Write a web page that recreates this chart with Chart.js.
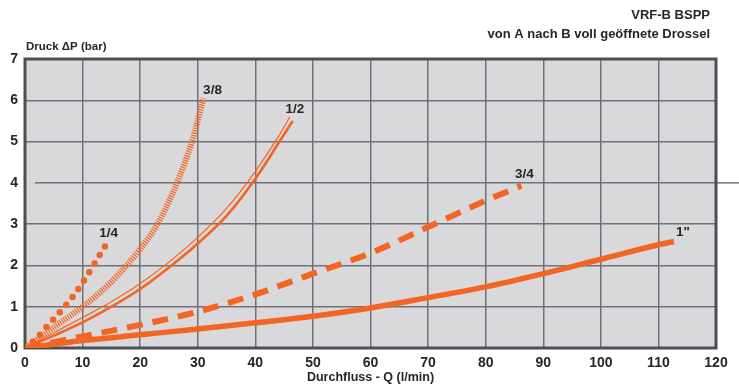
<!DOCTYPE html>
<html lang="de">
<head>
    <meta charset="UTF-8">
    <title>VRF-B BSPP</title>
    <script src="https://cdn.jsdelivr.net/npm/chart.js"></script>
    <style>
        html, body { margin: 0; padding: 0; background: #fff; }
        #wrap { width: 739px; height: 385px; }
    </style>
</head>
<body>
<div id="wrap"><canvas id="druckChart" width="739" height="385"></canvas></div>

<script>
    // Werte
    const xTicks = [0, 10, 20, 30, 40, 50, 60, 70, 80, 90, 100, 110, 120];
    const yTicks = [0, 1, 2, 3, 4, 5, 6, 7];

    const q14 = [0, 2, 4, 6, 8, 10, 12, 14];
    const dp14 = [0, 0.23, 0.55, 0.86, 1.19, 1.58, 2.03, 2.49];

    const q38 = [0, 5, 10, 15, 20, 23, 26.4, 29, 31];
    const dp38 = [0, 0.5, 1.0, 1.6, 2.4, 3.0, 4.0, 5.0, 6.05];

    const q12 = [0, 5, 10, 15, 20, 25, 30, 35, 40, 44.2, 46.5];
    const dp12 = [0, 0.3, 0.62, 1.0, 1.43, 1.95, 2.53, 3.2, 4.1, 5.0, 5.5];
    const q12b = [0, 5, 10, 15, 20, 25, 30, 35, 40, 44, 46];
    const dp12b = [0, 0.37, 0.74, 1.12, 1.56, 2.08, 2.68, 3.38, 4.28, 5.12, 5.6];

    const q34 = [0, 10, 20, 30, 40, 50, 60, 70, 80, 86.2];
    const dp34 = [0, 0.28, 0.56, 0.88, 1.3, 1.8, 2.3, 2.93, 3.57, 3.93];

    const q1 = [0, 10, 20, 30, 40, 50, 60, 70, 80, 90, 100, 110, 112.7];
    const dp1 = [0, 0.18, 0.32, 0.46, 0.61, 0.77, 0.97, 1.22, 1.48, 1.8, 2.15, 2.5, 2.58];

    const orange = '#f26524';
    const textColor = '#262628';
    const font = '"Liberation Sans", Arial, sans-serif';

    function pts(xs, ys) {
        return xs.map((x, i) => ({ x: x, y: ys[i] }));
    }

    // Hintergrund, Rahmen und Beschriftungen
    const deko = {
        id: 'deko',
        beforeDraw(chart) {
            const { ctx, chartArea: a } = chart;
            ctx.save();
            ctx.fillStyle = '#d9d9db';
            ctx.fillRect(a.left, a.top, a.right - a.left, a.bottom - a.top);
            ctx.restore();
        },
        beforeDatasetsDraw(chart) {
            const { ctx, chartArea: a, scales } = chart;
            ctx.save();
            // Linie bei 4 bar: links eine Lücke, rechts ragt sie heraus
            const y4 = scales.y.getPixelForValue(4);
            ctx.strokeStyle = '#d9d9db';
            ctx.lineWidth = 2;
            ctx.beginPath();
            ctx.moveTo(a.left, y4);
            ctx.lineTo(a.left + 10, y4);
            ctx.stroke();
            ctx.strokeStyle = '#6f7277';
            ctx.lineWidth = 1.5;
            ctx.beginPath();
            ctx.moveTo(a.right, y4);
            ctx.lineTo(chart.width, y4);
            ctx.stroke();
            ctx.strokeStyle = '#4b4e53';
            ctx.lineWidth = 3;
            ctx.strokeRect(a.left, a.top, a.right - a.left, a.bottom - a.top);
            ctx.restore();
        },
        afterDatasetsDraw(chart) {
            const { ctx, chartArea: a } = chart;
            ctx.save();
            ctx.fillStyle = textColor;
            ctx.textBaseline = 'middle';

            // Kurvennamen am Kurvenende
            ctx.font = 'bold 13.5px ' + font;
            ctx.textAlign = 'center';
            chart.data.datasets.forEach((ds, i) => {
                if (!ds.tag) return;
                const meta = chart.getDatasetMeta(i);
                const last = meta.data[meta.data.length - 1];
                ctx.fillText(ds.tag, last.x + ds.tagDx, last.y + ds.tagDy);
            });

            ctx.font = 'bold 11.5px ' + font;
            ctx.textAlign = 'left';
            ctx.fillText('Druck \u0394P (bar)', a.left + 1, 47);

            ctx.textAlign = 'center';
            ctx.font = 'bold 12.5px ' + font;
            ctx.fillText('Durchfluss - Q (l/min)', (a.left + a.right) / 2, 378);

            ctx.textAlign = 'right';
            ctx.font = 'bold 13px ' + font;
            ctx.fillText('VRF-B BSPP', 710, 15);
            ctx.fillText('von A nach B voll geöffnete Drossel', 710, 34);
            ctx.restore();
        }
    };

    const ctx = document.getElementById('druckChart').getContext('2d');
    new Chart(ctx, {
        type: 'line',
        data: {
            datasets: [
                {
                    data: pts(q1, dp1), tag: '1"', tagDx: 9, tagDy: -9,
                    borderColor: orange, borderWidth: 5.5, borderCapStyle: 'butt'
                },
                {
                    data: pts(q34, dp34), tag: '3/4', tagDx: 3, tagDy: -11,
                    borderColor: orange, borderWidth: 6, borderDash: [16, 10]
                },
                {
                    data: pts(q12b, dp12b),
                    borderColor: orange, borderWidth: 1.2
                },
                {
                    data: pts(q12, dp12), tag: '1/2', tagDx: 2, tagDy: -12,
                    borderColor: orange, borderWidth: 2.6
                },
                {
                    data: pts(q38, dp38), tag: '3/8', tagDx: 9, tagDy: -8,
                    borderColor: orange, borderWidth: 6, borderDash: [1.2, 1.2]
                },
                {
                    data: pts(q14, dp14), tag: '1/4', tagDx: 3, tagDy: -12,
                    borderColor: orange, borderWidth: 6.5, borderDash: [0, 10], borderCapStyle: 'round'
                }
            ]
        },
        options: {
            responsive: false,
            animation: false,
            cubicInterpolationMode: 'monotone',
            elements: { point: { radius: 0 } },
            layout: { padding: { top: 59, right: 23, left: 0, bottom: 0 } },
            plugins: { legend: { display: false }, tooltip: { enabled: false } },
            scales: {
                x: {
                    type: 'linear', min: 0, max: 120,
                    afterFit: (s) => { s.height = 37; },
                    afterBuildTicks: (s) => { s.ticks = xTicks.map(v => ({ value: v })); },
                    grid: { color: '#6f7277', lineWidth: 1.5, drawTicks: false },
                    border: { display: false },
                    ticks: { padding: 7, color: textColor, font: { family: font, size: 14, weight: 'bold' }, maxRotation: 0 }
                },
                y: {
                    min: 0, max: 7,
                    afterFit: (s) => { s.width = 25; },
                    afterBuildTicks: (s) => { s.ticks = yTicks.map(v => ({ value: v })); },
                    grid: { color: '#6f7277', lineWidth: 1.5, drawTicks: false },
                    border: { display: false },
                    ticks: { padding: 7, color: textColor, font: { family: font, size: 14, weight: 'bold' } }
                }
            }
        },
        plugins: [deko]
    });
</script>
</body>
</html>
